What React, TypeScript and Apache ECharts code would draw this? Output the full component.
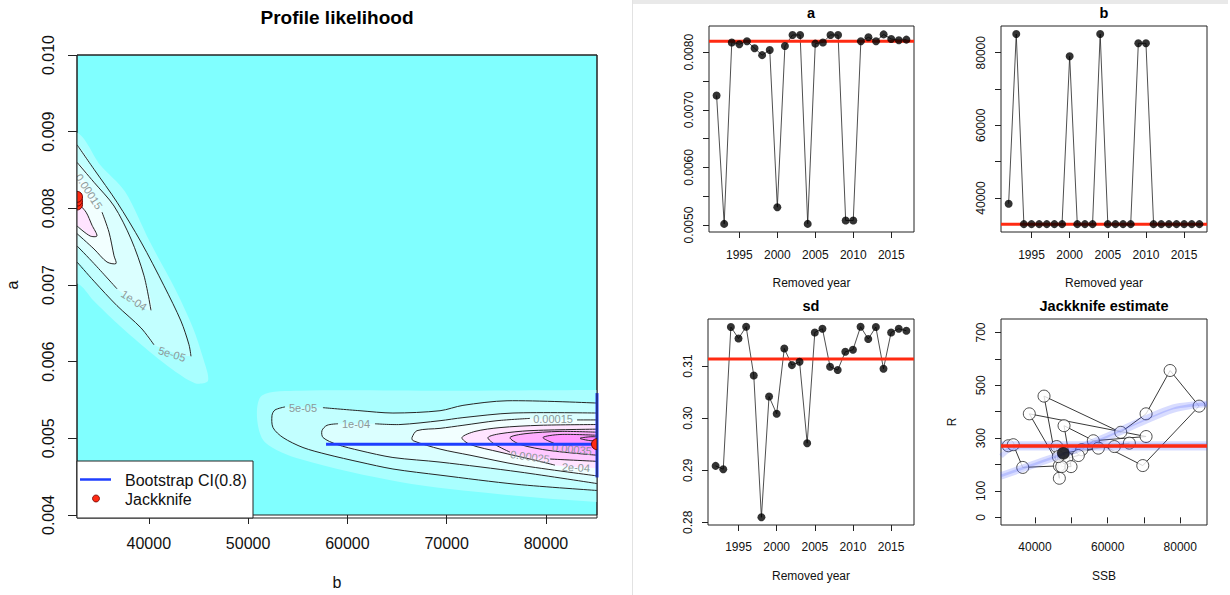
import React, { useEffect, useRef } from "react";
import * as echarts from "echarts";

type P = [number, number];

const FONT = "'Liberation Sans', Arial, Helvetica, sans-serif";

// ---------------- Profile likelihood (left panel) ----------------
const bLimits: P = [32770, 85140];
const aLimits: P = [0.004, 0.01];
const bTicks = [40000, 50000, 60000, 70000, 80000];
const aTicks = [0.004, 0.005, 0.006, 0.007, 0.008, 0.009, 0.01];

const contourLevels = [5e-5, 1e-4, 1.5e-4, 2e-4, 2.5e-4, 3e-4, 3.5e-4, 4e-4];

// faint region just outside the lowest contour
const haloLeft: P[] = [
  [32770, 0.00899], [35090, 0.00857], [37600, 0.00822], [40120, 0.00756], [42640, 0.00695],
  [44450, 0.00644], [45460, 0.00605], [45960, 0.00575], [44650, 0.00572], [42140, 0.00592],
  [39620, 0.00618], [36800, 0.0065], [34480, 0.00679], [32770, 0.00702],
];
const haloRight: P[] = [
  [85140, 0.00563], [70340, 0.00562], [55230, 0.00562], [51400, 0.00556], [50900, 0.00527],
  [51700, 0.00495], [55230, 0.00473], [65300, 0.00443], [75370, 0.00427], [85140, 0.00417],
];

// contour lines, split where a label interrupts them
const c050Left: P[][] = [
  [[32770, 0.00883], [34480, 0.00851], [36800, 0.00808], [39220, 0.00756], [41530, 0.00699], [43240, 0.00653], [44050, 0.00622], [44250, 0.00607]],
  [[40520, 0.00622], [39220, 0.00644], [36800, 0.00673], [34480, 0.00705], [32770, 0.0073]],
];
const c100Left: P[][] = [
  [[32770, 0.0086], [34480, 0.00834], [36500, 0.00803], [38210, 0.0076], [39520, 0.00712], [40220, 0.00667]],
  [[36800, 0.00695], [34480, 0.00728], [32770, 0.00751]],
];
const c150Left: P[][] = [
  [[32770, 0.00845]],
  [[35290, 0.00795], [35990, 0.00769], [36500, 0.00738], [36700, 0.00728], [35790, 0.0073], [34480, 0.00747], [32770, 0.00767]],
];
const c200Left: P[][] = [
  [[32770, 0.00808], [33680, 0.00795], [34280, 0.00778], [34780, 0.00764], [34080, 0.00764], [32770, 0.00777]],
];
const c050Right: P[][] = [
  [[85140, 0.00546], [76080, 0.00549], [71640, 0.00543], [69330, 0.00536], [64590, 0.00533], [61270, 0.00536], [57540, 0.0054]],
  [[53720, 0.00541], [52710, 0.00537], [52410, 0.0053], [52510, 0.00514], [53520, 0.00501], [55530, 0.00488], [57950, 0.00479], [61270, 0.00469], [64590, 0.0046], [69330, 0.00452], [77080, 0.0044], [85140, 0.00432]],
];
const c100Right: P[][] = [
  [[85140, 0.00533], [76680, 0.00533], [71640, 0.00527], [69330, 0.00523], [65300, 0.00518], [62780, 0.00519]],
  [[59060, 0.00519], [57950, 0.00517], [57440, 0.0051], [57550, 0.00501], [58960, 0.00492], [61270, 0.00484], [64590, 0.00475], [69330, 0.00469], [77390, 0.00456], [85140, 0.00441]],
];
const c150Right: P[][] = [
  [[85140, 0.00524], [83130, 0.00524]],
  [[78390, 0.00526], [75070, 0.00523], [71640, 0.00517], [69330, 0.00513], [67010, 0.0051], [66510, 0.00501], [66610, 0.00497], [69330, 0.00486], [72350, 0.00478], [77390, 0.00465], [85140, 0.00451]],
];
const c200Right: P[][] = [
  [[85140, 0.00518], [79400, 0.00517], [75370, 0.00514], [72850, 0.00509], [71540, 0.00501], [72350, 0.00492], [75370, 0.00482], [78390, 0.00473], [80910, 0.00465]],
  [[85140, 0.00461]],
];
const c250Right: P[][] = [
  [[85140, 0.00512], [78390, 0.0051], [75370, 0.00506], [74160, 0.00501], [74870, 0.00492], [76380, 0.00482]],
  [[80410, 0.00473], [85140, 0.0047]],
];
const c300Right: P[][] = [
  [[85140, 0.00508], [81410, 0.00509], [77890, 0.00506], [76380, 0.00501], [77390, 0.00492], [80410, 0.00484], [85140, 0.00478]],
];
const c350Right: P[][] = [
  [[85140, 0.00504], [81410, 0.00505], [79700, 0.00501], [80910, 0.00493]],
  [[85140, 0.00485]],
];
const c400Right: P[][] = [
  [[85140, 0.00502], [84430, 0.00502], [83430, 0.005], [84430, 0.00497], [85140, 0.00497]],
];

const contourLabelText = ["5e-05", "1e-04", "0.00015", "5e-05", "1e-04", "0.00015", "2e-04", "0.00025", "0.00035"];
const contourLabelB = [42340, 38510, 33980, 55530, 60870, 80710, 83020, 78390, 82620];
const contourLabelA = [0.0061, 0.0068, 0.00822, 0.0054, 0.00519, 0.00525, 0.00462, 0.00476, 0.00486];

// bootstrap CI and jackknife points on the profile
const ciB: P = [57850, 85140];
const ciA: P = [0.00449, 0.00559];
const ciCentre: P = [85140, 0.004924];
const profJackB = [32770, 32770, 32770, 85140];
const profJackA = [0.00805, 0.0081, 0.00815, 0.004924];

// ---------------- Jackknife panels ----------------
const years = [1992, 1993, 1994, 1995, 1996, 1997, 1998, 1999, 2000, 2001, 2002, 2003, 2004,
  2005, 2006, 2007, 2008, 2009, 2010, 2011, 2012, 2013, 2014, 2015, 2016, 2017];
const yearTicks = [1995, 2000, 2005, 2010, 2015];

const aJack = [0.00725, 0.00502, 0.00817, 0.00814, 0.00819, 0.00807, 0.00795, 0.00804, 0.00531, 0.00811,
  0.0083, 0.0083, 0.00502, 0.00815, 0.00817, 0.0083, 0.0083, 0.00508, 0.00508, 0.00819,
  0.00826, 0.00819, 0.00831, 0.00823, 0.00821, 0.00822];
const aFull = 0.00819;
const aPanelTicks = [0.005, 0.0055, 0.006, 0.0065, 0.007, 0.0075, 0.008];
const aPanelLabels = [0.005, 0.006, 0.007, 0.008];

const bJack = [38430, 85140, 32800, 32800, 32800, 32800, 32800, 32800, 79010, 32800,
  32800, 32800, 85140, 32800, 32800, 32800, 32800, 82590, 82590, 32800,
  32800, 32800, 32800, 32800, 32800, 32800];
const bFull = 32770;
const bPanelTicks = [40000, 50000, 60000, 70000, 80000];
const bPanelLabels = [40000, 60000, 80000];

const sdJack = [0.29083, 0.29019, 0.3175, 0.31531, 0.31756, 0.30819, 0.28096, 0.30415, 0.30083, 0.31338,
  0.31019, 0.31083, 0.29519, 0.31646, 0.31717, 0.30987, 0.30923, 0.31275, 0.31313, 0.31756,
  0.31519, 0.3175, 0.30948, 0.31646, 0.31717, 0.31679];
const sdFull = 0.31135;
const sdTicks = [0.28, 0.29, 0.3, 0.31];

// stock-recruitment with jackknife fits
const ssb = [32645, 34020, 36620, 46700, 38430, 70580, 56060, 52860, 51930, 48730, 45970, 46700, 42480,
  63600, 70580, 77190, 85180, 69670, 47990, 49920, 47350, 46420, 57440, 61850, 65980, 47800];
const rec = [271, 275, 189, 195, 392, 306, 290, 256, 234, 224, 268, 148, 459,
  322, 392, 556, 421, 196, 347, 192, 192, 230, 262, 268, 281, 243];
const srHighlight: P = [47800, 243];
const rFull = 270;
const srFitRising1: P[] = [[30634, 152], [40000, 197], [50000, 246], [60000, 300], [70000, 360], [78000, 405], [84000, 422], [87355, 426]];
const srFitRising2: P[] = [[30634, 162], [40000, 207], [50000, 256], [60000, 312], [70000, 374], [78000, 418], [84000, 430], [87355, 432]];
const srFitFlat1: P[] = [[30634, 232], [33000, 258], [36000, 270], [87355, 272]];
const srFitFlat2: P[] = [[30634, 263], [87355, 263]];
const srFitFlat3: P[] = [[30634, 279], [87355, 279]];
const ssbTicks = [40000, 50000, 60000, 70000, 80000];
const ssbLabels = [40000, 60000, 80000];
const recTicks = [0, 100, 200, 300, 400, 500, 600, 700];
const recLabels = [0, 100, 300, 500, 700];

// ---------------- styles ----------------
const HALO = "#a9ffff";
const BAND = ["#c2ffff", "#dbffff", "#f2ffff", "#ffe4ff", "#ffc9ff", "#ffaeff", "#ff96ff", "#ff80ff"];
const LABEL_ROT = [-17, -33, -57, 0, 0, 0, -3, -8, -6];
const RED = "#ff2a12";
const BLUE = "#1f3fff";

function axis(o: any) {
  return {
    type: "value",
    gridIndex: o.g,
    min: o.min,
    max: o.max,
    axisLine: { show: false },
    splitLine: { show: false },
    axisTick: { show: true, length: o.tl, lineStyle: { color: "#222", width: 1 }, customValues: o.ticks },
    axisLabel: {
      show: true, customValues: o.labels, formatter: o.fmt, color: "#111",
      fontSize: o.fs, fontFamily: FONT, margin: o.m, rotate: o.rot || 0, hideOverlap: false,
    },
    name: o.name,
    nameLocation: "middle",
    nameGap: o.ng,
    nameTextStyle: { color: "#111", fontSize: o.fs, fontFamily: FONT },
  };
}

function flatten(segs: P[][]): P[] {
  const pts: P[] = ([] as P[]).concat(...segs);
  const out = (p: P): P => {
    if (p[0] <= bLimits[0]) return [bLimits[0] - 4000, p[1]];
    if (p[0] >= bLimits[1]) return [bLimits[1] + 4000, p[1]];
    return p;
  };
  return [out(pts[0]), ...pts, out(pts[pts.length - 1])];
}

function buildOption() {
  const fills: { pts: P[]; color: string }[] = [
    { pts: flatten([haloLeft]), color: HALO },
    { pts: flatten([haloRight]), color: HALO },
    { pts: flatten(c050Left), color: BAND[0] },
    { pts: flatten(c050Right), color: BAND[0] },
    { pts: flatten(c100Left), color: BAND[1] },
    { pts: flatten(c100Right), color: BAND[1] },
    { pts: flatten(c150Left), color: BAND[2] },
    { pts: flatten(c150Right), color: BAND[2] },
    { pts: flatten(c200Left), color: BAND[3] },
    { pts: flatten(c200Right), color: BAND[3] },
    { pts: flatten(c250Right), color: BAND[4] },
    { pts: flatten(c300Right), color: BAND[5] },
    { pts: flatten(c350Right), color: BAND[6] },
    { pts: flatten(c400Right), color: BAND[7] },
  ];
  const allContours = [c050Left, c100Left, c150Left, c200Left, c050Right, c100Right, c150Right,
    c200Right, c250Right, c300Right, c350Right, c400Right];
  const lineSegs: P[][] = [];
  allContours.forEach((c) => c.forEach((s) => { if (s.length > 1) lineSegs.push(s); }));

  const yearAxis = (g: number, top: boolean) => axis({
    g, min: 1991, max: 2018, ticks: yearTicks, labels: yearTicks, fmt: (v: number) => String(v),
    fs: 12, tl: 6, m: top ? 17 : 16, name: "Removed year", ng: 45,
  });

  const grids = [
    { left: 77, top: 55, width: 520, height: 463, show: true, backgroundColor: "#80ffff", borderColor: "#222", borderWidth: 1 },
    { left: 709, top: 26, width: 205, height: 206, show: true, borderColor: "#222", borderWidth: 1 },
    { left: 1001, top: 26, width: 206, height: 206, show: true, borderColor: "#222", borderWidth: 1 },
    { left: 708, top: 319, width: 206, height: 206, show: true, borderColor: "#222", borderWidth: 1 },
    { left: 1001, top: 319, width: 206, height: 206, show: true, borderColor: "#222", borderWidth: 1 },
  ];

  const xAxes = [
    axis({ g: 0, min: bLimits[0], max: bLimits[1], ticks: bTicks, labels: bTicks, fmt: (v: number) => String(v), fs: 16, tl: 9, m: 20, name: "b", ng: 59 }),
    yearAxis(1, true),
    yearAxis(2, true),
    yearAxis(3, false),
    axis({ g: 4, min: 30634, max: 87355, ticks: ssbTicks, labels: ssbLabels, fmt: (v: number) => String(v), fs: 12, tl: 6, m: 16, name: "SSB", ng: 45 }),
  ];
  const yAxes = [
    axis({ g: 0, min: aLimits[0], max: aLimits[1], ticks: aTicks, labels: aTicks, fmt: (v: number) => v.toFixed(3), fs: 16, tl: 9, m: 21, rot: 90, name: "a", ng: 57 }),
    axis({ g: 1, min: 0.004879, max: 0.008456, ticks: aPanelTicks, labels: aPanelLabels, fmt: (v: number) => v.toFixed(4), fs: 12, tl: 6, m: 14, rot: 90, name: "", ng: 40 }),
    axis({ g: 2, min: 30634, max: 87355, ticks: bPanelTicks, labels: bPanelLabels, fmt: (v: number) => String(v), fs: 12, tl: 6, m: 14, rot: 90, name: "", ng: 40 }),
    axis({ g: 3, min: 0.27948, max: 0.31904, ticks: sdTicks, labels: sdTicks, fmt: (v: number) => v.toFixed(2), fs: 12, tl: 6, m: 14, rot: 90, name: "", ng: 40 }),
    axis({ g: 4, min: -29, max: 751, ticks: recTicks, labels: recLabels, fmt: (v: number) => String(v), fs: 12, tl: 6, m: 14, rot: 90, name: "R", ng: 43 }),
  ];

  const jackPanel = (idx: number, vals: number[], full: number) => [
    {
      type: "line", xAxisIndex: idx, yAxisIndex: idx, z: 2, silent: true, showSymbol: false,
      data: years.map((y, i) => [y, vals[i]]),
      lineStyle: { color: "#222", width: 0.8 },
    },
    {
      type: "line", xAxisIndex: idx, yAxisIndex: idx, z: 3, silent: true, showSymbol: false,
      data: [[1991, full], [2018, full]],
      lineStyle: { color: RED, width: 3 },
    },
    {
      type: "scatter", xAxisIndex: idx, yAxisIndex: idx, z: 4, silent: true,
      data: years.map((y, i) => [y, vals[i]]),
      symbol: "circle", symbolSize: 8, itemStyle: { color: "#000" },
    },
  ];

  const series: any[] = [
    {
      type: "custom", xAxisIndex: 0, yAxisIndex: 0, clip: true, silent: true, z: 2,
      data: fills.map((f, i) => [f.pts[1][0], f.pts[1][1], i]),
      renderItem: (params: any, api: any) => {
        const f = fills[params.dataIndex];
        return {
          type: "polygon",
          shape: { points: f.pts.map((p) => api.coord(p)), smooth: 0.3 },
          style: { fill: f.color, stroke: "none" },
        };
      },
    },
    {
      type: "custom", xAxisIndex: 0, yAxisIndex: 0, clip: true, silent: true, z: 3,
      data: lineSegs.map((s, i) => [s[0][0], s[0][1], i]),
      renderItem: (params: any, api: any) => ({
        type: "polyline",
        shape: { points: lineSegs[params.dataIndex].map((p) => api.coord(p)), smooth: 0.3 },
        style: { stroke: "#262626", lineWidth: 1, fill: "none" },
      }),
    },
    {
      type: "custom", xAxisIndex: 0, yAxisIndex: 0, clip: true, silent: true, z: 4,
      data: contourLabelB.map((b, i) => [b, contourLabelA[i], i]),
      renderItem: (params: any, api: any) => {
        const i = params.dataIndex;
        const c = api.coord([contourLabelB[i], contourLabelA[i]]);
        return {
          type: "text", x: c[0], y: c[1], rotation: (LABEL_ROT[i] * Math.PI) / 180,
          style: {
            text: contourLabelText[i], fill: "#8d9898", font: `11px ${FONT}`,
            textAlign: "center", textVerticalAlign: "middle",
          },
        };
      },
    },
    {
      type: "line", xAxisIndex: 0, yAxisIndex: 0, z: 5, silent: true, showSymbol: false, clip: false,
      data: [[ciB[0], ciCentre[1]], [ciB[1], ciCentre[1]]],
      lineStyle: { color: BLUE, width: 3 },
    },
    {
      type: "line", xAxisIndex: 0, yAxisIndex: 0, z: 5, silent: true, showSymbol: false, clip: false,
      data: [[ciCentre[0], ciA[0]], [ciCentre[0], ciA[1]]],
      lineStyle: { color: BLUE, width: 3 },
    },
    {
      type: "custom", xAxisIndex: 0, yAxisIndex: 0, clip: true, silent: true, z: 6,
      data: profJackB.map((b, i) => [b, profJackA[i]]),
      renderItem: (params: any, api: any) => {
        const c = api.coord([api.value(0), api.value(1)]);
        return { type: "circle", shape: { cx: c[0], cy: c[1], r: 5.5 }, style: { fill: RED, stroke: "#6a0000", lineWidth: 1 } };
      },
    },
    ...jackPanel(1, aJack, aFull),
    ...jackPanel(2, bJack, bFull),
    ...jackPanel(3, sdJack, sdFull),
    {
      type: "line", xAxisIndex: 4, yAxisIndex: 4, z: 2, silent: true, showSymbol: false,
      data: ssb.map((s, i) => [s, rec[i]]),
      lineStyle: { color: "#222", width: 0.9 },
    },
    {
      type: "scatter", xAxisIndex: 4, yAxisIndex: 4, z: 3, silent: true,
      data: ssb.map((s, i) => [s, rec[i]]),
      symbol: "circle", symbolSize: 12,
      itemStyle: { color: "#fff", borderColor: "#222", borderWidth: 1 },
    },
    ...[srFitRising1, srFitRising2, srFitFlat1, srFitFlat2, srFitFlat3].map((d) => ({
      type: "line", xAxisIndex: 4, yAxisIndex: 4, z: 4, silent: true, showSymbol: false, smooth: 0.3,
      data: d,
      lineStyle: { color: "rgba(60,80,255,0.2)", width: 5 },
    })),
    {
      type: "line", xAxisIndex: 4, yAxisIndex: 4, z: 5, silent: true, showSymbol: false,
      data: [[30634, rFull], [87355, rFull]],
      lineStyle: { color: RED, width: 3.5 },
    },
    {
      type: "scatter", xAxisIndex: 4, yAxisIndex: 4, z: 6, silent: true,
      data: [srHighlight],
      symbol: "circle", symbolSize: 12, itemStyle: { color: "#000" },
    },
  ];

  const titleStyle = (fs: number) => ({ fontSize: fs, fontWeight: "bold", color: "#000", fontFamily: FONT });

  return {
    animation: false,
    backgroundColor: "#fff",
    title: [
      { text: "Profile likelihood", left: 337, top: 8, textAlign: "center", padding: 0, textStyle: titleStyle(19) },
      { text: "a", left: 811, top: 5, textAlign: "center", padding: 0, textStyle: titleStyle(14.5) },
      { text: "b", left: 1104, top: 5, textAlign: "center", padding: 0, textStyle: titleStyle(14.5) },
      { text: "sd", left: 811, top: 298, textAlign: "center", padding: 0, textStyle: titleStyle(14.5) },
      { text: "Jackknife estimate", left: 1104, top: 298, textAlign: "center", padding: 0, textStyle: titleStyle(14.5) },
    ],
    grid: grids,
    xAxis: xAxes,
    yAxis: yAxes,
    series,
    graphic: {
      elements: [
        { type: "rect", z: 100, shape: { x: 632, y: 0, width: 596, height: 4 }, style: { fill: "#e9e9e9" } },
        { type: "line", z: 100, shape: { x1: 632.5, y1: 0, x2: 632.5, y2: 595 }, style: { stroke: "#e2e2e2", lineWidth: 1 } },
        { type: "rect", z: 100, shape: { x: 77, y: 55, width: 520, height: 463 }, style: { fill: "none", stroke: "#222", lineWidth: 1 } },
        { type: "rect", z: 101, shape: { x: 77, y: 461, width: 176, height: 57 }, style: { fill: "#fff", stroke: "#222", lineWidth: 1 } },
        { type: "line", z: 102, shape: { x1: 80, y1: 479.5, x2: 111, y2: 479.5 }, style: { stroke: BLUE, lineWidth: 2.5 } },
        { type: "circle", z: 102, shape: { cx: 96, cy: 498.5, r: 3.5 }, style: { fill: RED, stroke: "#6a0000", lineWidth: 0.8 } },
        { type: "text", z: 102, x: 125, y: 480, style: { text: "Bootstrap CI(0.8)", font: `16px ${FONT}`, fill: "#111", textVerticalAlign: "middle" } },
        { type: "text", z: 102, x: 125, y: 499, style: { text: "Jackknife", font: `16px ${FONT}`, fill: "#111", textVerticalAlign: "middle" } },
      ],
    },
  };
}

export default function App() {
  const ref = useRef<HTMLDivElement>(null);
  useEffect(() => {
    const chart = echarts.init(ref.current!, null, { renderer: "svg" });
    chart.setOption(buildOption() as any);
    return () => chart.dispose();
  }, []);
  return (
    <div
      ref={ref}
      style={{ position: "absolute", left: 0, top: 0, width: 1230, height: 595, background: "#fff" }}
    />
  );
}
